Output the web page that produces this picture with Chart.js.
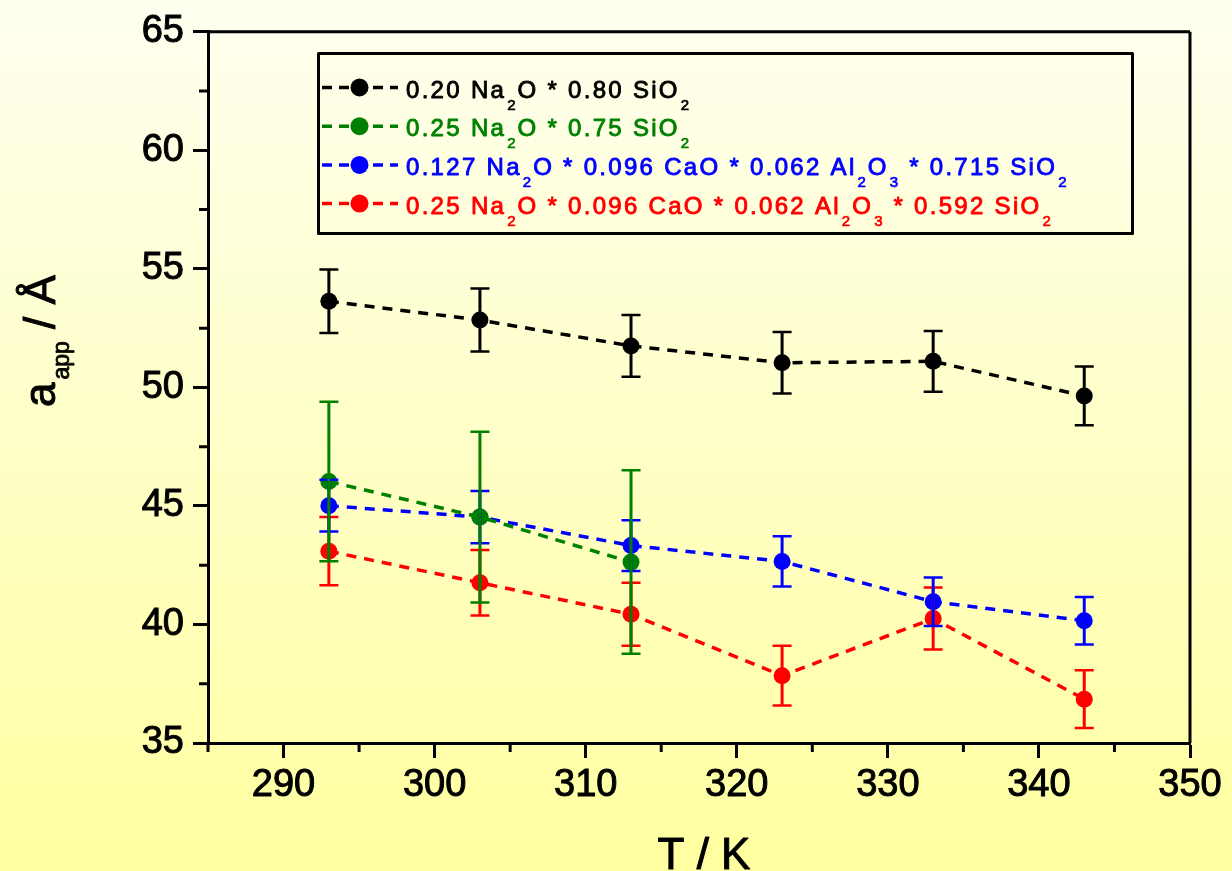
<!DOCTYPE html>
<html><head><meta charset="utf-8">
<script src="https://cdn.jsdelivr.net/npm/chart.js@4.4.0/dist/chart.umd.min.js"></script>
<style>
html,body{margin:0;padding:0;overflow:hidden;background:linear-gradient(#FFFFF0,#FFFFA0);}
canvas{display:block}
</style></head><body>
<canvas id="c" width="1232" height="871"></canvas>
<script>
// ---- data ----
const temperatures = [293, 303, 313, 323, 333, 343];
const greenTemperatures = [293, 303, 313];
const seriesLabels = [
  '0.20 Na_{2}O * 0.80 SiO_{2}',
  '0.25 Na_{2}O * 0.75 SiO_{2}',
  '0.127 Na_{2}O * 0.096 CaO * 0.062 Al_{2}O_{3} * 0.715 SiO_{2}',
  '0.25 Na_{2}O * 0.096 CaO * 0.062 Al_{2}O_{3} * 0.592 SiO_{2}'
];
const seriesColors = ['#000000', '#008000', '#0000FF', '#FF0000'];
const blackValues = [53.63, 52.84, 51.75, 51.04, 51.10, 49.64];
const blackErrors = [1.34, 1.33, 1.30, 1.30, 1.28, 1.24];
const greenValues = [46.03, 44.53, 42.63];
const greenErrors = [3.36, 3.60, 3.87];
const blueValues = [45.01, 44.53, 43.33, 42.66, 40.96, 40.16];
const blueErrors = [1.09, 1.10, 1.07, 1.06, 1.02, 1.00];
const redValues = [43.09, 41.76, 40.43, 37.84, 40.25, 36.85];
const redErrors = [1.44, 1.38, 1.33, 1.26, 1.31, 1.22];
const xTickValues = [290, 300, 310, 320, 330, 340, 350];
const yTickValues = [35, 40, 45, 50, 55, 60, 65];
const xMinorTicks = [285, 295, 305, 315, 325, 335, 345];
const yMinorTicks = [37.5, 42.5, 47.5, 52.5, 57.5, 62.5];
const xTitle = 'T / K';
const yTitleMain = 'a', yTitleSub = 'app', yTitleRest = ' / Å';

const FONT = "'Liberation Sans', Arial, sans-serif";

function makeSet(i, xs, ys, errs) {
  return {
    label: seriesLabels[i],
    data: xs.map((x, k) => ({x: x, y: ys[k]})),
    errors: errs,
    borderColor: seriesColors[i],
    backgroundColor: seriesColors[i],
    pointBackgroundColor: seriesColors[i],
    pointBorderWidth: 0,
    pointRadius: 8.5,
    pointHoverRadius: 8.5,
    borderWidth: 3.5,
    borderDash: [10, 8],
    tension: 0,
    fill: false
  };
}

const bgPlugin = {
  id: 'bg',
  beforeDraw(chart) {
    const ctx = chart.ctx;
    const g = ctx.createLinearGradient(0, 0, 0, chart.height);
    g.addColorStop(0, '#FFFFF0');
    g.addColorStop(1, '#FFFFA0');
    ctx.save();
    ctx.fillStyle = g;
    ctx.fillRect(0, 0, chart.width, chart.height);
    ctx.restore();
  }
};

const errorBarPlugin = {
  id: 'errbars',
  afterDatasetsDraw(chart) {
    const ctx = chart.ctx;
    const xs = chart.scales.x, ys = chart.scales.y;
    ctx.save();
    for (let i = chart.data.datasets.length - 1; i >= 0; i--) {
      const ds = chart.data.datasets[i];
      ctx.strokeStyle = ds.borderColor;
      ds.data.forEach((p, k) => {
        const e = ds.errors[k];
        const x = xs.getPixelForValue(p.x);
        const yt = ys.getPixelForValue(p.y + e);
        const yb = ys.getPixelForValue(p.y - e);
        ctx.lineWidth = 3;
        ctx.beginPath(); ctx.moveTo(x, yt); ctx.lineTo(x, yb); ctx.stroke();
        ctx.lineWidth = 2.5;
        ctx.beginPath();
        ctx.moveTo(x - 9.5, yt); ctx.lineTo(x + 9.5, yt);
        ctx.moveTo(x - 9.5, yb); ctx.lineTo(x + 9.5, yb);
        ctx.stroke();
      });
    }
    ctx.restore();
  }
};

function parseRich(s) {
  const parts = [];
  const re = /_\{([^}]*)\}/g;
  let last = 0, m;
  while ((m = re.exec(s))) {
    if (m.index > last) parts.push([s.slice(last, m.index), false]);
    parts.push([m[1], true]);
    last = re.lastIndex;
  }
  if (last < s.length) parts.push([s.slice(last), false]);
  return parts;
}

function boldText(ctx, txt, x, y, sw) {
  ctx.fillText(txt, x, y);
  ctx.lineWidth = sw;
  ctx.lineJoin = 'round';
  ctx.strokeText(txt, x, y);
}

const decorPlugin = {
  id: 'decor',
  afterDraw(chart) {
    const ctx = chart.ctx;
    const a = chart.chartArea;
    const xs = chart.scales.x, ys = chart.scales.y;
    ctx.save();
    ctx.strokeStyle = '#000';
    ctx.lineWidth = 3;
    // top and right axes
    ctx.beginPath();
    ctx.moveTo(a.left, a.top); ctx.lineTo(a.right, a.top);
    ctx.moveTo(a.right, a.top); ctx.lineTo(a.right, a.bottom);
    ctx.stroke();
    // minor ticks
    ctx.beginPath();
    xMinorTicks.forEach(v => { const x = xs.getPixelForValue(v); ctx.moveTo(x, a.bottom); ctx.lineTo(x, a.bottom + 9); });
    yMinorTicks.forEach(v => { const y = ys.getPixelForValue(v); ctx.moveTo(a.left, y); ctx.lineTo(a.left - 9, y); });
    ctx.stroke();

    // x title
    ctx.fillStyle = '#000';
    ctx.strokeStyle = '#000';
    ctx.font = '44px ' + FONT;
    ctx.textAlign = 'center';
    ctx.textBaseline = 'alphabetic';
    boldText(ctx, xTitle, (a.left + a.right) / 2 + 5, 869, 1);

    // y title (rotated)
    ctx.save();
    ctx.translate(55, 407);
    ctx.rotate(-Math.PI / 2);
    ctx.textAlign = 'left';
    ctx.font = '44px ' + FONT;
    boldText(ctx, yTitleMain, 0, 0, 1);
    let w = ctx.measureText(yTitleMain).width + 3;
    ctx.font = '23px ' + FONT;
    boldText(ctx, yTitleSub, w, 14, 0.8);
    w += ctx.measureText(yTitleSub).width;
    ctx.font = '44px ' + FONT;
    boldText(ctx, yTitleRest, w, 0, 1);
    ctx.restore();

    // legend
    ctx.lineWidth = 3;
    ctx.strokeStyle = '#000';
    ctx.strokeRect(318.5, 53.5, 814, 180);
    chart.data.datasets.forEach((ds, i) => {
      const cy = 87.5 + i * 38.7;
      ctx.save();
      ctx.strokeStyle = ds.borderColor;
      ctx.lineWidth = 3.5;
      ctx.setLineDash([10, 7]);
      ctx.beginPath(); ctx.moveTo(322, cy); ctx.lineTo(398, cy); ctx.stroke();
      ctx.setLineDash([]);
      ctx.fillStyle = ds.borderColor;
      ctx.beginPath(); ctx.arc(359.5, cy, 9, 0, Math.PI * 2); ctx.fill();
      let x = 406;
      const base = cy + 10;
      ctx.textAlign = 'left';
      const hasLS = ('letterSpacing' in ctx);
      parseRich(ds.label).forEach(([txt, sub]) => {
        if (sub) {
          ctx.font = '15px ' + FONT;
          if (hasLS) ctx.letterSpacing = '1px';
          boldText(ctx, txt, x + 1, base + 12, 0.7);
          x += ctx.measureText(txt).width + 2;
        } else {
          ctx.font = '24px ' + FONT;
          if (hasLS) ctx.letterSpacing = '2.3px';
          boldText(ctx, txt, x, base, 0.9);
          x += ctx.measureText(txt).width + (hasLS ? 0 : 2.3 * txt.length);
        }
      });
      if (hasLS) ctx.letterSpacing = '0px';
      ctx.restore();
    });
    ctx.restore();
  }
};

Chart.defaults.font.family = FONT;

new Chart(document.getElementById('c'), {
  type: 'line',
  data: {
    datasets: [
      makeSet(0, temperatures, blackValues, blackErrors),
      makeSet(1, greenTemperatures, greenValues, greenErrors),
      makeSet(2, temperatures, blueValues, blueErrors),
      makeSet(3, temperatures, redValues, redErrors)
    ]
  },
  options: {
    responsive: false,
    animation: false,
    devicePixelRatio: 1,
    layout: {padding: {top: 28, right: 42, left: 0, bottom: 0}},
    plugins: {legend: {display: false}, tooltip: {enabled: false}},
    events: [],
    scales: {
      x: {
        type: 'linear',
        min: 285, max: 350,
        afterBuildTicks: s => { s.ticks = xTickValues.map(v => ({value: v})); },
        afterFit: s => { s.height = 128; },
        ticks: {stepSize: 10, includeBounds: false, color: '#000', font: {size: 38}, padding: 5, maxRotation: 0, autoSkip: false, textStrokeColor: '#000', textStrokeWidth: 1},
        grid: {display: true, drawOnChartArea: false, drawTicks: true, tickLength: 15, tickWidth: 3, tickColor: '#000'},
        border: {display: true, color: '#000', width: 3}
      },
      y: {
        type: 'linear',
        min: 35, max: 65,
        afterBuildTicks: s => { s.ticks = yTickValues.map(v => ({value: v})); },
        afterFit: s => { s.width = 208; },
        ticks: {stepSize: 5, color: '#000', font: {size: 38}, padding: 9, autoSkip: false, textStrokeColor: '#000', textStrokeWidth: 1},
        grid: {display: true, drawOnChartArea: false, drawTicks: true, tickLength: 15, tickWidth: 3, tickColor: '#000'},
        border: {display: true, color: '#000', width: 3}
      }
    }
  },
  plugins: [bgPlugin, errorBarPlugin, decorPlugin]
});
</script>
</body></html>
